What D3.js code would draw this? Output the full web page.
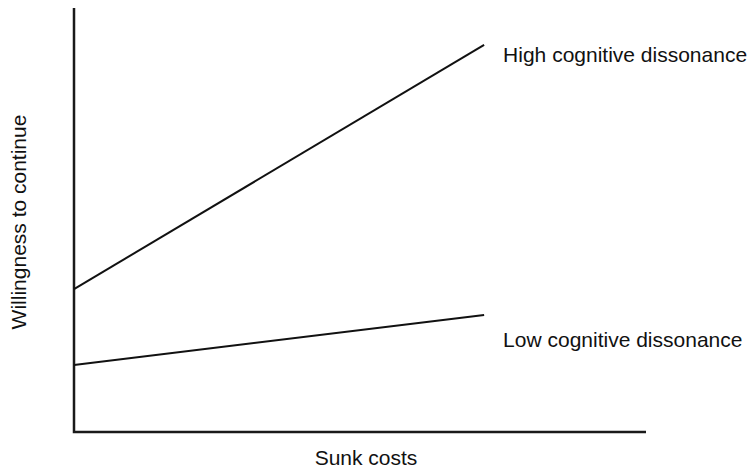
<!DOCTYPE html>
<html>
<head>
<meta charset="utf-8">
<script src="https://d3js.org/d3.v7.min.js"></script>
<style>
  body { margin: 0; background: #fff; }
  text { font-family: "Liberation Sans", Arial, sans-serif; fill: #111; }
</style>
</head>
<body>
<script>
// series: [sunk costs, willingness]
var seriesNames = ["High cognitive dissonance", "Low cognitive dissonance"];
var highLine = [[0, 3.37], [7.17, 9.13]];
var lowLine = [[0, 1.58], [7.17, 2.76]];
var xTitle = "Sunk costs";
var yTitle = "Willingness to continue";

var width = 749, height = 468;
var margin = {top: 8, right: 103, bottom: 36, left: 74};

var svg = d3.select("body").append("svg")
    .attr("width", width)
    .attr("height", height);

x = d3.scaleLinear().domain([0, 10]).range([margin.left, width - margin.right]);
y = d3.scaleLinear().domain([0, 10]).range([height - margin.bottom, margin.top]);

var line = d3.line()
    .x(function (d) { return x(d[0]); })
    .y(function (d) { return y(d[1]); });

// axes (plain lines, no ticks)
svg.append("path")
    .attr("d", line([[0, 10], [0, 0], [10, 0]]))
    .style("fill", "none")
    .style("stroke", "#1a1a1a")
    .style("stroke-width", 2.5);

var series = [highLine, lowLine];

svg.selectAll(".series")
    .data(series)
    .enter().append("path")
    .attr("class", "series")
    .attr("d", line)
    .style("fill", "none")
    .style("stroke", "#111")
    .style("stroke-width", 2);

// labels to the right of each line end
var labelDy = [16.7, 31.7];
svg.selectAll(".label")
    .data(series)
    .enter().append("text")
    .attr("class", "label")
    .attr("x", function (d) { return x(d[1][0]) + 19; })
    .attr("y", function (d, i) { return y(d[1][1]) + labelDy[i]; })
    .style("font-size", "21px")
    .text(function (d, i) { return seriesNames[i]; });

svg.append("text")
    .attr("x", 366)
    .attr("y", 465)
    .attr("text-anchor", "middle")
    .style("font-size", "21px")
    .text(xTitle);

svg.append("text")
    .attr("transform", "translate(26,222) rotate(-90)")
    .attr("text-anchor", "middle")
    .style("font-size", "21px")
    .text(yTitle);
</script>
</body>
</html>
